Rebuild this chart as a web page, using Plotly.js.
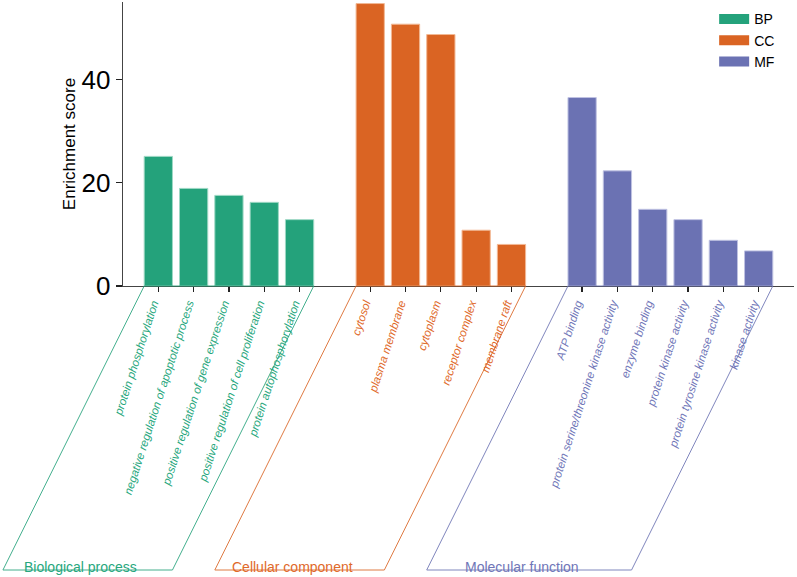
<!DOCTYPE html>
<html>
<head>
<meta charset="utf-8">
<script src="https://cdn.plot.ly/plotly-3.0.1.min.js"></script>
<style>html,body{margin:0;padding:0;background:#fff;}#chart{width:797px;height:577px;}</style>
</head>
<body>
<div id="chart"></div>
<script>
// ---- data ----
const groupKeys = ['BP', 'CC', 'MF'];
const groupTitles = ['Biological process', 'Cellular component', 'Molecular function'];

const bpTerms = ['protein phosphorylation', 'negative regulation of apoptotic process',
  'positive regulation of gene expression', 'positive regulation of cell proliferation',
  'protein autophosphorylation'];
const bpScores = [25.1, 18.9, 17.55, 16.2, 12.85];

const ccTerms = ['cytosol', 'plasma membrane', 'cytoplasm', 'receptor complex', 'membrane raft'];
const ccScores = [54.7, 50.7, 48.7, 10.8, 8.05];

const mfTerms = ['ATP binding', 'protein serine/threonine kinase activity', 'enzyme binding',
  'protein kinase activity', 'protein tyrosine kinase activity', 'kinase activity'];
const mfScores = [36.5, 22.3, 14.85, 12.85, 8.85, 6.8];

// ---- styling ----
const barColors = ['#24a27b', '#da6423', '#6b72b3'];
const edgeColors = ['#9ed8c4', '#f2b894', '#bfc2e2'];
const textColors = ['#27a77d', '#e0692a', '#7076b8'];
const font = 'Liberation Sans, Arial, Helvetica, sans-serif';

const groups = [
  {terms: bpTerms, scores: bpScores},
  {terms: ccTerms, scores: ccScores},
  {terms: mfTerms, scores: mfScores}
];

const xRange = [-1, 18];
const gap = 1;
const barW = 0.8;
const slant = 4; // parallelogram horizontal offset, in category slots

const traces = [];
const tickvals = [], ticktext = [];
const shapes = [], annotations = [];
const fx = v => (v - xRange[0]) / (xRange[1] - xRange[0]);

let pos = 0;
groups.forEach((g, gi) => {
  const xs = g.terms.map((_, i) => pos + i);
  traces.push({
    type: 'bar', x: xs, y: g.scores, name: groupKeys[gi], showlegend: false,
    width: barW,
    marker: {color: barColors[gi], line: {color: edgeColors[gi], width: 1}},
    hovertext: g.terms, hoverinfo: 'text+y'
  });
  xs.forEach((x, i) => {
    tickvals.push(x);
    ticktext.push('<span style="color:' + textColors[gi] + '">' + g.terms[i] + '</span>');
  });
  const left = xs[0] - barW / 2, right = xs[xs.length - 1] + barW / 2;
  const p = 'M' + fx(left) + ',0 L' + fx(right) + ',0 L' + fx(right - slant) + ',-1 L' + fx(left - slant) + ',-1 Z';
  shapes.push({type: 'path', xref: 'paper', yref: 'paper', path: p,
    line: {color: barColors[gi], width: 1}, opacity: 0.85});
  annotations.push({xref: 'paper', yref: 'paper', x: fx((left + right) / 2 - slant), y: -1,
    xanchor: 'center', yanchor: 'middle', xshift: -7, yshift: 3, showarrow: false,
    text: groupTitles[gi], font: {family: font, size: 14, color: textColors[gi]}});
  pos += g.terms.length + gap;
});

// legend entries
groupKeys.forEach((k, gi) => {
  traces.push({type: 'scatter', mode: 'lines', x: [null], y: [null], name: k,
    line: {color: barColors[gi], width: 10}, hoverinfo: 'skip'});
});

const layout = {
  width: 797, height: 577,
  margin: {l: 123, r: 3, t: 2, b: 291},
  paper_bgcolor: '#fff', plot_bgcolor: '#fff',
  font: {family: font, color: '#000'},
  bargap: 0.2,
  xaxis: {
    range: xRange, tickmode: 'array', tickvals: tickvals, ticktext: ticktext,
    tickangle: -72, tickfont: {family: font, size: 11.5, style: 'italic'},
    ticklabelshift: -5,
    ticks: 'outside', ticklen: 5, tickcolor: '#222', tickwidth: 1.3,
    showline: true, linecolor: '#444', linewidth: 1.3,
    showgrid: false, zeroline: false, automargin: false, fixedrange: true
  },
  yaxis: {
    range: [0, 55], tickvals: [0, 20, 40], ticks: 'outside', ticklen: 6,
    tickcolor: '#222', tickwidth: 1.3,
    tickfont: {family: font, size: 26, color: '#000'},
    showline: true, linecolor: '#444', linewidth: 1.3,
    showgrid: false, zeroline: false, automargin: false, fixedrange: true,
    title: {text: 'Enrichment score', font: {family: font, size: 17, color: '#000'}, standoff: 1}
  },
  legend: {x: 0.881, y: 0.995, xanchor: 'left', yanchor: 'top', bgcolor: 'rgba(0,0,0,0)',
    font: {family: font, size: 14, color: '#000'}},
  shapes: shapes,
  annotations: annotations
};

Plotly.newPlot('chart', traces, layout, {displayModeBar: false, staticPlot: true});
</script>
</body>
</html>
